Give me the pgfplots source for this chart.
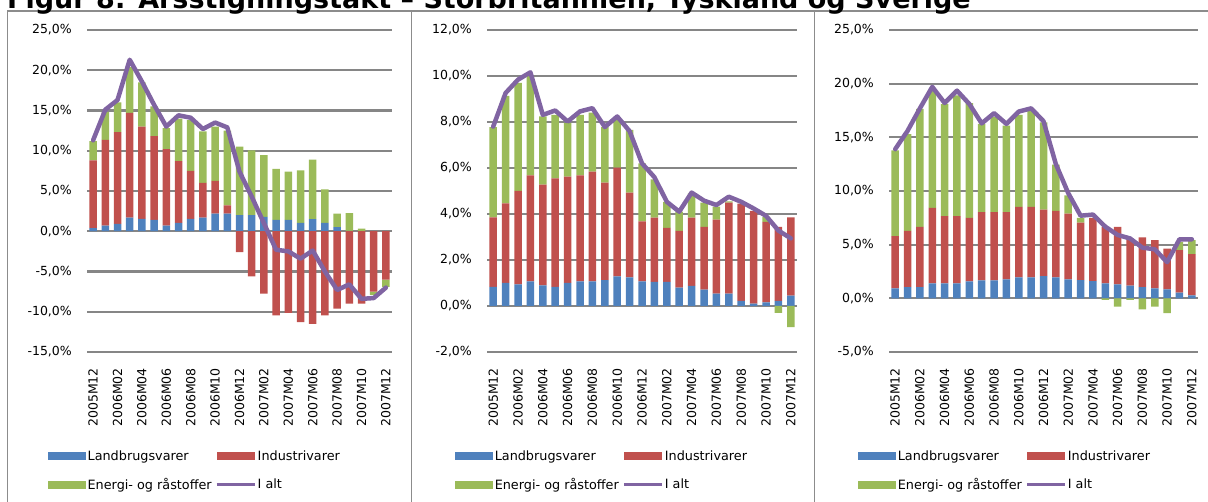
\documentclass[border=0pt]{standalone}
\usepackage{fontspec}
\setmainfont{DejaVu Sans}
\usepackage{pgfplots}
\usepackage{pgfplotstable}
\pgfplotsset{compat=1.18}

\definecolor{cB}{RGB}{79,129,189}
\definecolor{cR}{RGB}{192,80,77}
\definecolor{cG}{RGB}{155,187,89}
\definecolor{cL}{RGB}{128,100,162}
\definecolor{cGrid}{RGB}{134,134,134}
\definecolor{cFrame}{RGB}{140,140,140}

\newcommand\tickfont{\fontsize{12.5bp}{14bp}\selectfont}
\newcommand\legfont{\fontsize{12.8bp}{15bp}\selectfont}

% Storbritannien
\pgfplotstableread{
x B Rp Gp Rn Gn L
0 0.40 8.40 2.40 0 0 11.3
1 0.70 10.65 3.45 0 0 15.1
2 0.90 11.40 3.70 0 0 16.3
3 1.70 13.00 5.70 0 0 21.3
4 1.55 11.45 5.50 0 0 18.6
5 1.40 10.40 3.70 0 0 15.7
6 0.70 9.50 2.60 0 0 13.0
7 1.05 7.65 5.30 0 0 14.4
8 1.55 5.95 6.30 0 0 14.1
9 1.70 4.30 6.40 0 0 12.7
10 2.20 4.05 6.75 0 0 13.5
11 2.20 1.00 9.30 0 0 12.9
12 2.00 0 8.50 -2.60 0 7.4
13 2.00 0 8.05 -5.60 0 4.3
14 1.80 0 7.65 -7.75 0 1.0
15 1.40 0 6.35 -10.45 0 -2.3
16 1.40 0 6.00 -10.15 0 -2.5
17 1.05 0 6.50 -11.30 0 -3.4
18 1.50 0 7.40 -11.50 0 -2.4
19 1.05 0 4.15 -10.45 0 -5.0
20 0.50 0 1.70 -9.60 0 -7.3
21 0.05 0 2.20 -9.00 0 -6.6
22 0 0 0.33 -9.00 0 -8.4
23 0 0 0 -7.50 -0.40 -8.3
24 0 0 0 -6.00 -0.90 -7.0
}\dataUK

% Tyskland
\pgfplotstableread{
x B Rp Gp Rn Gn L
0 0.83 3.02 3.93 0 0 7.80
1 1.00 3.46 4.68 0 0 9.26
2 0.94 4.07 4.69 0 0 9.84
3 1.07 4.61 4.31 0 0 10.16
4 0.90 4.38 2.96 0 0 8.31
5 0.83 4.72 2.76 0 0 8.50
6 1.00 4.62 2.33 0 0 8.02
7 1.07 4.61 2.63 0 0 8.46
8 1.07 4.77 2.57 0 0 8.60
9 1.12 4.24 2.42 0 0 7.78
10 1.29 4.73 2.08 0 0 8.24
11 1.24 3.69 2.73 0 0 7.60
12 1.07 2.61 2.52 0 0 6.20
13 1.05 2.79 1.66 0 0 5.60
14 1.05 2.35 1.13 0 0 4.53
15 0.80 2.47 0.83 0 0 4.10
16 0.87 2.97 1.06 0 0 4.93
17 0.71 2.73 1.05 0 0 4.58
18 0.54 3.22 0.56 0 0 4.39
19 0.54 3.95 0.06 0 0 4.75
20 0.22 4.23 0 0 0 4.53
21 0.10 4.04 0 0 0 4.24
22 0.16 3.50 0.22 0 0 3.92
23 0.22 3.22 0 0 -0.30 3.28
24 0.45 3.40 0 0 -0.92 2.94
}\dataDE

% Sverige
\pgfplotstableread{
x B Rp Gp Rn Gn L
0 0.93 4.86 7.99 0 0 13.9
1 1.05 5.23 9.02 0 0 15.6
2 1.05 5.61 10.99 0 0 17.7
3 1.39 7.03 10.93 0 0 19.7
4 1.39 6.26 10.45 0 0 18.2
5 1.39 6.26 11.25 0 0 19.35
6 1.58 5.91 10.70 0 0 18.1
7 1.67 6.35 8.23 0 0 16.3
8 1.67 6.35 8.88 0 0 17.25
9 1.76 6.26 8.08 0 0 16.25
10 1.95 6.56 8.59 0 0 17.4
11 1.95 6.56 8.99 0 0 17.7
12 2.07 6.20 8.13 0 0 16.5
13 1.95 6.19 4.31 0 0 12.5
14 1.76 6.13 1.71 0 0 9.8
15 1.70 5.36 0.44 0 0 7.7
16 1.61 5.89 0 0 0 7.8
17 1.39 5.27 0 0 -0.15 6.67
18 1.30 5.36 0 0 -0.77 5.9
19 1.18 4.39 0 0 -0.15 5.58
20 1.05 4.62 0 0 -1.02 4.72
21 0.93 4.49 0 0 -0.77 4.57
22 0.84 3.80 0 0 -1.39 3.37
23 0.53 3.96 0.77 0 0 5.5
24 0.28 3.84 1.30 0 0 5.5
}\dataSE

\pgfplotsset{
  panelbase/.style={
    scale only axis, height=322bp, anchor=south west,
    xmin=-0.5, xmax=24.5,
  },
  visible/.style={
    ybar stacked, bar width=7.5bp,
    axis line style={draw=none},
    major tick length=0pt,
    ymajorgrids, grid style={cGrid, line width=2.2bp},
    xtick={0,2,...,24},
    xticklabels={2005M12,2006M02,2006M04,2006M06,2006M08,2006M10,2006M12,2007M02,2007M04,2007M06,2007M08,2007M10,2007M12},
    xticklabel style={rotate=90, anchor=east, inner sep=0pt, font=\tickfont},
    xticklabel shift=16bp,
    yticklabel style={anchor=east, inner sep=0pt, font=\tickfont},
    yticklabel shift=15bp,
    legend columns=2,
    legend cell align=left,
    legend style={draw=none, fill=none, inner sep=0pt, font=\legfont, anchor=north west,
      nodes={inner sep=1.5bp}, row sep=14bp,
      /tikz/every even column/.append style={column sep=2bp}},
  },
  negbars/.style={ybar stacked, bar width=7.5bp, hide axis},
  lineax/.style={hide axis},
  legB/.style={legend image code/.code={\fill[cB] (0bp,-4bp) rectangle (38bp,4bp);}},
  legR/.style={legend image code/.code={\fill[cR] (0bp,-4bp) rectangle (38bp,4bp);}},
  legG/.style={legend image code/.code={\fill[cG] (0bp,-4bp) rectangle (38bp,4bp);}},
}

\begin{document}
\begin{tikzpicture}[x=1bp,y=1bp]
\useasboundingbox (0,0) rectangle (1208,502);
\draw[cFrame, line width=1.2bp] (7.5,-10) -- (7.5,491) -- (1215,491);
\draw[cFrame, line width=1.2bp] (411.5,-10) -- (411.5,491);
\draw[cFrame, line width=1.2bp] (814.5,-10) -- (814.5,491);

% ---------------- Panel 1 -----------------
\begin{axis}[panelbase, visible, at={(87bp,150bp)}, width=305bp,
  ymin=-15, ymax=25, ytick={-15,-10,-5,0,5,10,15,20,25},
  yticklabels={{-15,0\%},{-10,0\%},{-5,0\%},{0,0\%},{5,0\%},{10,0\%},{15,0\%},{20,0\%},{25,0\%}},
  legend style={at={(axis description cs:-0.128,-0.300)}}]
\addplot[fill=cB, draw=none, legB] table[x=x,y=B]{\dataUK};
\addlegendentry{Landbrugsvarer}
\addplot[fill=cR, draw=none, legR] table[x=x,y=Rp]{\dataUK};
\addlegendentry{Industrivarer}
\addplot[fill=cG, draw=none, legG] table[x=x,y=Gp]{\dataUK};
\addlegendentry{Energi- og råstoffer}
\addlegendimage{legend image code/.code={\draw[cL, line width=3bp] (0bp,0bp) -- (38bp,0bp);}}
\addlegendentry{I alt}
\end{axis}
\begin{axis}[panelbase, negbars, at={(87bp,150bp)}, width=305bp, ymin=-15, ymax=25]
\addplot[fill=cR, draw=none] table[x=x,y=Rn]{\dataUK};
\addplot[fill=cG, draw=none] table[x=x,y=Gn]{\dataUK};
\end{axis}
\begin{axis}[panelbase, lineax, at={(87bp,150bp)}, width=305bp, ymin=-15, ymax=25]
\addplot[cL, line width=4.5bp, line join=round, line cap=round, mark=none] table[x=x,y=L]{\dataUK};
\end{axis}

% ---------------- Panel 2 -----------------
\begin{axis}[panelbase, visible, at={(487bp,150bp)}, width=310bp,
  ymin=-2, ymax=12, ytick={-2,0,2,4,6,8,10,12},
  yticklabels={{-2,0\%},{0,0\%},{2,0\%},{4,0\%},{6,0\%},{8,0\%},{10,0\%},{12,0\%}},
  legend style={at={(axis description cs:-0.103,-0.300)}}]
\addplot[fill=cB, draw=none, legB] table[x=x,y=B]{\dataDE};
\addlegendentry{Landbrugsvarer}
\addplot[fill=cR, draw=none, legR] table[x=x,y=Rp]{\dataDE};
\addlegendentry{Industrivarer}
\addplot[fill=cG, draw=none, legG] table[x=x,y=Gp]{\dataDE};
\addlegendentry{Energi- og råstoffer}
\addlegendimage{legend image code/.code={\draw[cL, line width=3bp] (0bp,0bp) -- (38bp,0bp);}}
\addlegendentry{I alt}
\end{axis}
\begin{axis}[panelbase, negbars, at={(487bp,150bp)}, width=310bp, ymin=-2, ymax=12]
\addplot[fill=cR, draw=none] table[x=x,y=Rn]{\dataDE};
\addplot[fill=cG, draw=none] table[x=x,y=Gn]{\dataDE};
\end{axis}
\begin{axis}[panelbase, lineax, at={(487bp,150bp)}, width=310bp, ymin=-2, ymax=12]
\addplot[cL, line width=4.5bp, line join=round, line cap=round, mark=none] table[x=x,y=L]{\dataDE};
\end{axis}

% ---------------- Panel 3 -----------------
\begin{axis}[panelbase, visible, at={(889bp,150bp)}, width=309bp,
  ymin=-5, ymax=25, ytick={-5,0,5,10,15,20,25},
  yticklabels={{-5,0\%},{0,0\%},{5,0\%},{10,0\%},{15,0\%},{20,0\%},{25,0\%}},
  legend style={at={(axis description cs:-0.100,-0.300)}}]
\addplot[fill=cB, draw=none, legB] table[x=x,y=B]{\dataSE};
\addlegendentry{Landbrugsvarer}
\addplot[fill=cR, draw=none, legR] table[x=x,y=Rp]{\dataSE};
\addlegendentry{Industrivarer}
\addplot[fill=cG, draw=none, legG] table[x=x,y=Gp]{\dataSE};
\addlegendentry{Energi- og råstoffer}
\addlegendimage{legend image code/.code={\draw[cL, line width=3bp] (0bp,0bp) -- (38bp,0bp);}}
\addlegendentry{I alt}
\end{axis}
\begin{axis}[panelbase, negbars, at={(889bp,150bp)}, width=309bp, ymin=-5, ymax=25]
\addplot[fill=cR, draw=none] table[x=x,y=Rn]{\dataSE};
\addplot[fill=cG, draw=none] table[x=x,y=Gn]{\dataSE};
\end{axis}
\begin{axis}[panelbase, lineax, at={(889bp,150bp)}, width=309bp, ymin=-5, ymax=25]
\addplot[cL, line width=4.5bp, line join=round, line cap=round, mark=none] table[x=x,y=L]{\dataSE};
\end{axis}

\node[anchor=base west, inner sep=0pt, font=\bfseries\fontsize{27bp}{30bp}\selectfont] at (7,493)
  {Figur 8: Årsstigningstakt – Storbritannien, Tyskland og Sverige};
\end{tikzpicture}
\end{document}
